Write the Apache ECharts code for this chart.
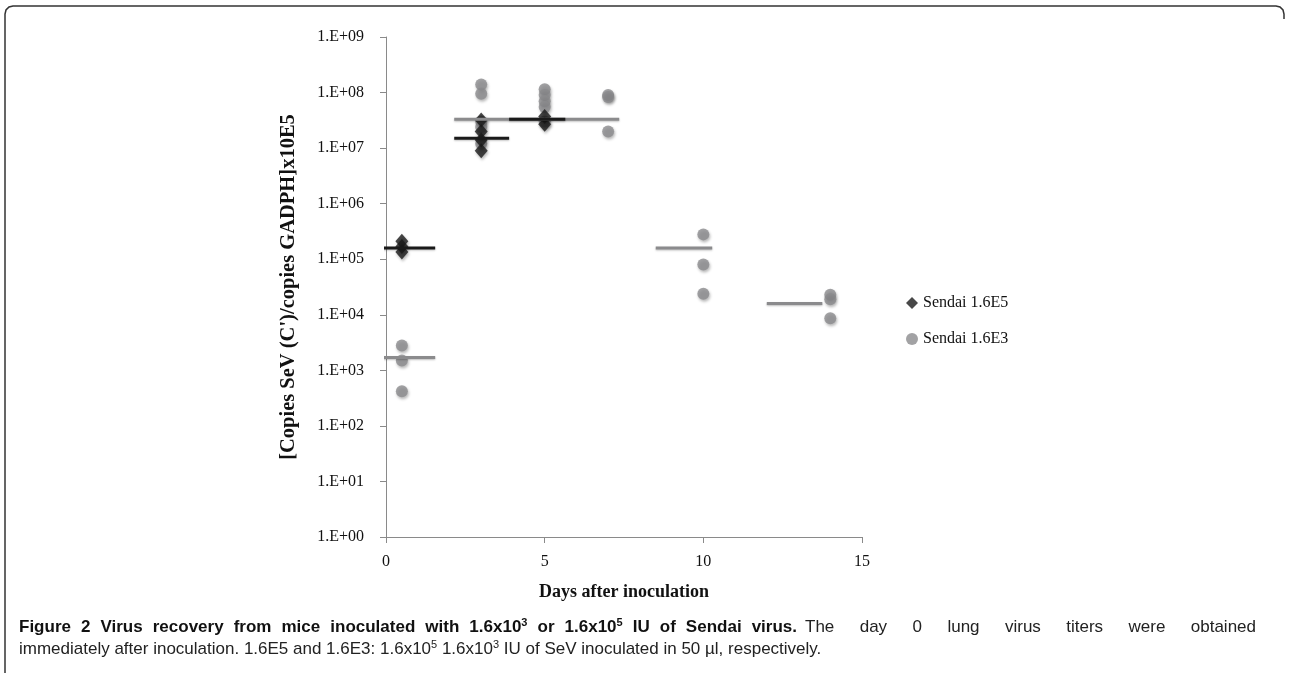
<!DOCTYPE html>
<html>
<head>
<meta charset="utf-8">
<script src="https://cdn.jsdelivr.net/npm/echarts@6/dist/echarts.min.js"></script>
<style>
  html, body { margin: 0; padding: 0; background: #fff; }
  #chart { width: 1290px; height: 673px; }
</style>
</head>
<body>
<div id="chart"></div>
<script>
// Lung virus titres, Sendai 1.6E5 inoculum (individual mice)
const highDays   = [0.5, 0.5, 0.5, 3, 3, 3, 3, 5, 5];
const highValues = [2.1e5, 1.7e5, 1.35e5, 3.2e7, 2.0e7, 1.4e7, 9.0e6, 3.7e7, 2.7e7];

// Lung virus titres, Sendai 1.6E3 inoculum (individual mice)
const lowDays   = [0.5, 0.5, 0.5, 3, 3, 3, 3, 3, 5, 5, 5, 5, 5, 7, 7, 7, 10, 10, 10, 14, 14, 14];
const lowValues = [2.8e3, 1.5e3, 4.2e2, 1.4e8, 9.5e7, 3.0e7, 2.4e7, 1.2e7,
                   1.15e8, 9.0e7, 7.0e7, 5.5e7, 3.0e7, 9.0e7, 8.3e7, 2.0e7,
                   2.8e5, 8.0e4, 2.4e4, 2.3e4, 1.9e4, 8.7e3];

// Group median bars (from day, to day, level)
const highMedStart = [-0.2, 2.15, 3.88];
const highMedEnd   = [1.55, 3.88, 5.65];
const highMedValue = [1.6e5, 1.5e7, 3.3e7];

const lowMedStart = [-0.2, 2.15, 8.5, 12.0];
const lowMedEnd   = [1.55, 7.35, 10.28, 13.75];
const lowMedValue = [1.7e3, 3.3e7, 1.6e5, 1.6e4];

const seriesNames = ['Sendai 1.6E5', 'Sendai 1.6E3'];
const yTickLabels = ['1.E+00', '1.E+01', '1.E+02', '1.E+03', '1.E+04',
                     '1.E+05', '1.E+06', '1.E+07', '1.E+08', '1.E+09'];
const xTicks = [0, 5, 10, 15];

// Caption text; "^" marks a superscript digit
const captionTitle = 'Figure 2 Virus recovery from mice inoculated with 1.6x10^3 or 1.6x10^5 IU of Sendai virus.';
const captionLine1Rest = 'The day 0 lung virus titers were obtained';
const captionLine2 = 'immediately after inoculation. 1.6E5 and 1.6E3: 1.6x10^5 1.6x10^3 IU of SeV inoculated in 50 µl, respectively.';

const serif = '"Liberation Serif", "Times New Roman", serif';
const sans = '"Liberation Sans", Arial, sans-serif';
const black = '#1a1a1a';
const grey = '#8b8b8d';

const pointShadow = {
  shadowBlur: 3,
  shadowColor: 'rgba(0,0,0,0.35)',
  shadowOffsetX: 1,
  shadowOffsetY: 2
};

function pairs(xs, ys) {
  return xs.map((x, i) => [x, ys[i]]);
}

function medianSeries(starts, ends, values, color, z) {
  return starts.map((s, i) => ({
    type: 'line',
    name: 'median',
    data: [[s, values[i]], [ends[i], values[i]]],
    showSymbol: false,
    symbol: 'none',
    silent: true,
    clip: false,
    z: z,
    lineStyle: { color: color, width: 3, shadowBlur: 2, shadowColor: 'rgba(0,0,0,0.25)', shadowOffsetY: 1 }
  }));
}

// ---- caption layout ----
const capSize = 17, supSize = 11;
const measureCtx = document.createElement('canvas').getContext('2d');
function measure(str, weight, size) {
  measureCtx.font = weight + ' ' + size + 'px ' + sans;
  return measureCtx.measureText(str).width;
}
// split a word into [text, isSuperscript] pieces
function pieces(word) {
  const i = word.indexOf('^');
  return i < 0 ? [[word, false]] : [[word.slice(0, i), false], [word.slice(i + 1), true]];
}
function wordWidth(word, weight) {
  return pieces(word).reduce((w, p) => w + measure(p[0], weight, p[1] ? supSize : capSize), 0);
}
function richWord(word, weight) {
  const tag = weight === 'bold' ? 'b' : 'n';
  return pieces(word).map(p => '{' + tag + (p[1] ? 's' : '') + '|' + p[0] + '}').join('');
}
const richStyles = {
  b:  { fontFamily: sans, fontSize: capSize, fontWeight: 'bold', fill: '#111', lineHeight: 20 },
  bs: { fontFamily: sans, fontSize: supSize, fontWeight: 'bold', fill: '#111', lineHeight: 20, verticalAlign: 'top' },
  n:  { fontFamily: sans, fontSize: capSize, fill: '#222', lineHeight: 20 },
  ns: { fontFamily: sans, fontSize: supSize, fill: '#222', lineHeight: 20, verticalAlign: 'top' }
};
function captionWords(text, weight) {
  return text.split(' ').map(w => ({ w: w, weight: weight }));
}
function textEl(str, x, y) {
  return {
    type: 'text', x: x, y: y, silent: true,
    style: { text: str, rich: richStyles, align: 'left', verticalAlign: 'top' }
  };
}
// spread words evenly between two x positions
function justifiedRun(words, left, right, top) {
  const total = words.reduce((s, o) => s + wordWidth(o.w, o.weight), 0);
  const gap = (right - left - total) / (words.length - 1);
  let x = left;
  return words.map(o => {
    const el = textEl(richWord(o.w, o.weight), x, top);
    x += wordWidth(o.w, o.weight) + gap;
    return el;
  });
}

const titleWords = captionWords(captionTitle, 'bold');
const restWords = captionWords(captionLine1Rest, 'normal');
const line2Words = captionWords(captionLine2, 'normal');

const chart = echarts.init(document.getElementById('chart'), null, { renderer: 'canvas' });

const option = {
  backgroundColor: '#ffffff',
  animation: false,
  grid: { left: 386, right: 428, top: 37, bottom: 136, containLabel: false },
  legend: {
    orient: 'vertical',
    left: 901,
    top: 290,
    itemGap: 20,
    itemWidth: 12,
    itemHeight: 12,
    data: [
      { name: seriesNames[0], icon: 'diamond', itemStyle: { color: black } },
      { name: seriesNames[1], icon: 'circle', itemStyle: { color: grey } }
    ],
    textStyle: { fontFamily: serif, fontSize: 16, color: '#111' }
  },
  xAxis: {
    type: 'value',
    min: 0,
    max: 15,
    interval: 5,
    name: 'Days after inoculation',
    nameLocation: 'middle',
    nameGap: 46,
    nameTextStyle: { fontFamily: serif, fontSize: 18, fontWeight: 'bold', color: '#111' },
    axisLine: { show: true, lineStyle: { color: '#8a8a8a', width: 1 } },
    axisTick: { show: true, length: 6, lineStyle: { color: '#8a8a8a' } },
    axisLabel: {
      margin: 17,
      fontFamily: serif,
      fontSize: 16,
      color: '#111',
      formatter: v => (xTicks.indexOf(v) >= 0 ? String(v) : '')
    },
    splitLine: { show: false }
  },
  yAxis: {
    type: 'log',
    logBase: 10,
    min: 1,
    max: 1e9,
    name: "[Copies SeV (C')/copies GADPH]x10E5",
    nameLocation: 'middle',
    nameGap: 87,
    nameRotate: 90,
    nameTextStyle: { fontFamily: serif, fontSize: 20.5, fontWeight: 'bold', color: '#111' },
    axisLine: { show: true, lineStyle: { color: '#8a8a8a', width: 1 } },
    axisTick: { show: true, length: 6, lineStyle: { color: '#8a8a8a' } },
    axisLabel: {
      margin: 22,
      fontFamily: serif,
      fontSize: 16,
      color: '#111',
      formatter: v => yTickLabels[Math.round(Math.log10(v))]
    },
    splitLine: { show: false }
  },
  series: [
    {
      type: 'scatter',
      name: seriesNames[1],
      data: pairs(lowDays, lowValues),
      symbol: 'circle',
      symbolSize: 12,
      z: 2,
      itemStyle: Object.assign({ color: grey }, pointShadow)
    },
    {
      type: 'scatter',
      name: seriesNames[0],
      data: pairs(highDays, highValues),
      symbol: 'diamond',
      symbolSize: [13, 15],
      z: 3,
      itemStyle: Object.assign({ color: black }, pointShadow)
    }
  ]
    .concat(medianSeries(lowMedStart, lowMedEnd, lowMedValue, grey, 4))
    .concat(medianSeries(highMedStart, highMedEnd, highMedValue, black, 5)),
  graphic: [
    {
      type: 'polyline',
      silent: true,
      shape: {
        points: [[5, 673], [5, 14], [6, 10], [9, 7], [13, 6], [1276, 6], [1280, 7], [1283, 10], [1284, 14], [1284, 19]]
      },
      style: { fill: null, stroke: '#333', lineWidth: 1.5 }
    },
    textEl(line2Words.map(o => richWord(o.w, o.weight)).join('{n| }'), 19, 639)
  ]
    .concat(justifiedRun(titleWords, 19, 797, 617))
    .concat(justifiedRun(restWords, 805, 1256, 617))
};

chart.setOption(option);
</script>
</body>
</html>
